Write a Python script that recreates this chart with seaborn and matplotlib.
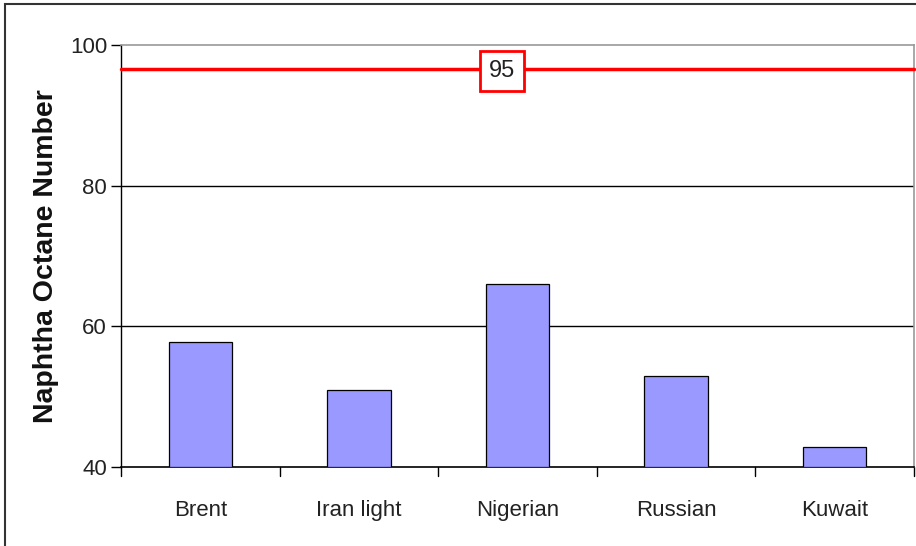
import matplotlib
matplotlib.use("Agg")
import matplotlib.pyplot as plt
import seaborn as sns
import pandas as pd
from matplotlib.patches import Rectangle

categories = ["Brent", "Iran light", "Nigerian", "Russian", "Kuwait"]
octane = [57.8, 51.0, 66.0, 53.0, 42.8]
target_value = 96.6
target_label = "95"
y_ticks = [40, 60, 80, 100]

df = pd.DataFrame({"crude": categories, "octane": octane})

sns.set_theme(style="white")
font = ["Liberation Sans", "DejaVu Sans"]
plt.rcParams["font.family"] = font

fig = plt.figure(figsize=(9.16, 5.46), dpi=100)
ax = fig.add_axes([121/916, 1-467/546, (914-121)/916, (467-45)/546])

sns.barplot(data=df, x="crude", y="octane", ax=ax, color="#9999FF",
            saturation=1, width=0.40, edgecolor="black", linewidth=0.9, zorder=3)
for p in ax.patches:
    y0 = 40
    h = p.get_height()
    p.set_y(y0)
    p.set_height(h - y0)

ax.set_ylim(40, 100)
ax.set_xlim(-0.5, len(categories) - 0.5)
ax.set_yticks(y_ticks)
ax.set_yticklabels([str(t) for t in y_ticks], fontsize=16, color="#222222")

# gridlines
for t in [60, 80]:
    ax.axhline(t, color="black", linewidth=1.0, zorder=1)

# target line
ax.axhline(target_value, color="#FF0000", linewidth=2.5, zorder=4, clip_on=False)
ax.text(1.9, target_value - 0.3, target_label, ha="center", va="center", fontsize=17,
        color="#222222", zorder=5,
        bbox=dict(boxstyle="square,pad=0.38", facecolor="white", edgecolor="#FF0000", linewidth=2))

# x ticks between categories
ax.set_xticks(range(len(categories)))
ax.set_xticklabels(categories, fontsize=16, color="#222222")
ax.tick_params(axis="x", length=0, pad=24)
for b in [i + 0.5 for i in range(-1, len(categories))]:
    ax.plot([b, b], [0, -0.022], transform=ax.get_xaxis_transform(), color="black",
            linewidth=1.0, clip_on=False)
ax.tick_params(axis="y", length=7, width=1.0, color="black", direction="out", left=True, pad=3)

for s in ["top", "right"]:
    ax.spines[s].set_visible(True)
    ax.spines[s].set_color("#999999")
    ax.spines[s].set_linewidth(1.2)
ax.spines["left"].set_color("black")
ax.spines["left"].set_linewidth(1.0)
ax.spines["bottom"].set_color("black")
ax.spines["bottom"].set_linewidth(1.2)

ax.set_xlabel("")
ax.set_ylabel("Naphtha Octane Number", fontsize=20.5, fontweight="bold",
              labelpad=8, color="#111111")

# outer border
fig.patches.append(Rectangle((5/916, -0.05), 1.0, 1.05 - 4/546, transform=fig.transFigure,
                             fill=False, edgecolor="#333333", linewidth=1.5))

fig.savefig("out.png", dpi=100)
